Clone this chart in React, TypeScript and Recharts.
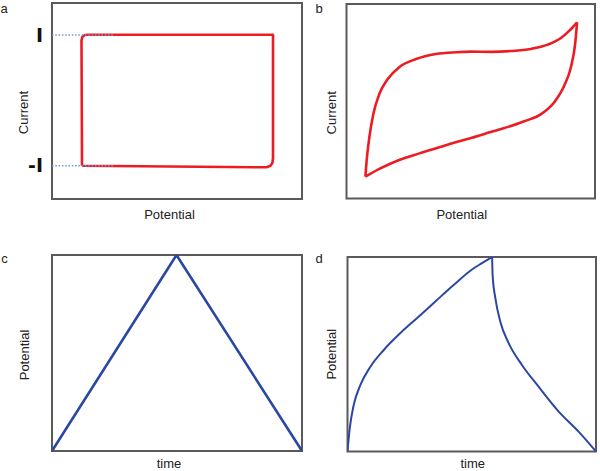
import React from 'react';
import { LineChart, Line, XAxis, YAxis, ReferenceArea } from 'recharts';

const FONT = '"Liberation Sans", Arial, sans-serif';
const RED = '#ec1c24';
const BLUE = '#2b47a3';
const FRAME = '#5a5a5a';

// Panel titles / labels
const panelLetters = ['a', 'b', 'c', 'd'];
const xTitles = ['Potential', 'Potential', 'time', 'time'];
const yTitles = ['Current', 'Current', 'Potential', 'Potential'];

// Panel a: ideal (rectangular) cyclic voltammogram
const currentTicks = [-1, 1];
const currentTickLabels = ['-I', 'I'];
const rectCV = [
  { x: 12.0, y: -1.0 },
  { x: 11.8, y: 0.92 },
  { x: 12.2, y: 0.975 },
  { x: 13.2, y: 1.0 },
  { x: 14.4, y: 1.003 },
  { x: 88.4, y: 1.003 },
  { x: 88.4, y: -0.883 },
  { x: 88.2, y: -0.952 },
  { x: 87.4, y: -1.002 },
  { x: 85.8, y: -1.025 },
  { x: 12.0, y: -1.0 },
];
const guideTop = [
  { x: 0, y: 1 },
  { x: 25, y: 1 },
];
const guideBottom = [
  { x: 0, y: -1 },
  { x: 25, y: -1 },
];

// Panel b: pseudocapacitive CV (upper and lower branches)
const cvUpper = [
  { x: 7.6, y: 11.2 },
  { x: 8.1, y: 19.4 },
  { x: 9.2, y: 31.5 },
  { x: 10.8, y: 43.4 },
  { x: 13.2, y: 53.7 },
  { x: 16.6, y: 61.4 },
  { x: 21.2, y: 67.5 },
  { x: 28.0, y: 71.7 },
  { x: 36.0, y: 74.3 },
  { x: 44.1, y: 75.2 },
  { x: 50.1, y: 75.5 },
  { x: 58.1, y: 75.4 },
  { x: 66.2, y: 75.8 },
  { x: 74.2, y: 76.9 },
  { x: 81.0, y: 79.1 },
  { x: 86.3, y: 82.5 },
  { x: 89.7, y: 86.3 },
  { x: 92.8, y: 90.6 },
];
const cvLower = [
  { x: 7.6, y: 11.2 },
  { x: 13.2, y: 15.2 },
  { x: 21.2, y: 19.8 },
  { x: 29.3, y: 23.2 },
  { x: 37.3, y: 26.3 },
  { x: 45.4, y: 29.4 },
  { x: 50.1, y: 31.1 },
  { x: 55.5, y: 33.2 },
  { x: 63.5, y: 36.2 },
  { x: 71.5, y: 39.7 },
  { x: 78.3, y: 43.4 },
  { x: 83.6, y: 49.5 },
  { x: 87.6, y: 58.0 },
  { x: 90.3, y: 67.5 },
  { x: 92.0, y: 79.4 },
  { x: 92.8, y: 90.6 },
];

// Panel c: ideal galvanostatic charge/discharge
const gcdTriangle = [
  { x: 0, y: 0 },
  { x: 49.8, y: 100 },
  { x: 100, y: 0 },
];

// Panel d: pseudocapacitive galvanostatic charge/discharge
const gcdCharge = [
  { x: 0, y: 0 },
  { x: 0.9, y: 11.9 },
  { x: 2.5, y: 23.9 },
  { x: 5.2, y: 34.2 },
  { x: 9.2, y: 43.6 },
  { x: 14.6, y: 52.2 },
  { x: 21.2, y: 60.8 },
  { x: 28.6, y: 69.3 },
  { x: 36.0, y: 77.9 },
  { x: 42.7, y: 85.6 },
  { x: 50.1, y: 93.6 },
  { x: 54.1, y: 96.8 },
  { x: 58.2, y: 100 },
];
const gcdDischarge = [
  { x: 58.2, y: 100 },
  { x: 58.4, y: 90.7 },
  { x: 59.5, y: 78.8 },
  { x: 61.5, y: 66.7 },
  { x: 64.9, y: 55.6 },
  { x: 70.2, y: 44.5 },
  { x: 76.9, y: 33.3 },
  { x: 85.0, y: 20.5 },
  { x: 93.0, y: 10.2 },
  { x: 100, y: 0 },
];

const titleStyle = { fontFamily: FONT, fontSize: 13, fill: '#222' };

type PanelProps = {
  left: number;
  top: number;
  width: number;
  height: number;
  margin: { top: number; right: number; bottom: number; left: number };
  yWidth: number;
  xHeight: number;
  yDomain: [number, number];
  xTitle: string;
  xDx: number;
  xOffset: number;
  yTitle: string;
  yDx: number;
  yDy: number;
  yTicks?: number[];
  children: React.ReactNode;
};

function Panel(p: PanelProps) {
  return (
    <div style={{ position: 'absolute', left: p.left, top: p.top }}>
      <LineChart width={p.width} height={p.height} margin={p.margin}>
        <XAxis
          type="number"
          dataKey="x"
          domain={[0, 100]}
          allowDataOverflow
          height={p.xHeight}
          tick={false}
          tickLine={false}
          axisLine={false}
          label={{ value: p.xTitle, position: 'insideTop', offset: p.xOffset, dx: p.xDx, style: titleStyle }}
        />
        <YAxis
          type="number"
          domain={p.yDomain}
          allowDataOverflow
          width={p.yWidth}
          ticks={p.yTicks}
          tick={
            p.yTicks
              ? { fontFamily: '"DejaVu Sans", Arial, sans-serif', fontSize: 19, fontWeight: 'bold', fill: '#111' }
              : false
          }
          tickFormatter={(v: number) => (v > 0 ? currentTickLabels[1] : currentTickLabels[0])}
          tickLine={false}
          tickSize={0}
          tickMargin={9}
          axisLine={false}
          interval={0}
          label={{ value: p.yTitle, angle: -90, position: 'center', dx: p.yDx, dy: p.yDy, style: titleStyle }}
        />
        <ReferenceArea
          x1={0}
          x2={100}
          y1={p.yDomain[0]}
          y2={p.yDomain[1]}
          fill="none"
          stroke={FRAME}
          strokeWidth={2}
          ifOverflow="visible"
        />
        {p.children}
      </LineChart>
    </div>
  );
}

export default function App() {
  return (
    <div
      style={{
        position: 'absolute',
        left: 0,
        top: 0,
        width: 600,
        height: 471,
        background: '#fff',
        overflow: 'hidden',
      }}
    >
      <Panel
        left={0}
        top={0}
        width={310}
        height={230}
        margin={{ top: 3, right: 8, bottom: 0, left: 0 }}
        yWidth={52}
        xHeight={31}
        yDomain={[-1.51, 1.49]}
        xTitle={xTitles[0]}
        xDx={-7.5}
        xOffset={10.5}
        yTitle={yTitles[0]}
        yDx={-3}
        yDy={11.5}
        yTicks={currentTicks}
      >
        <Line data={rectCV} dataKey="y" type="linear" stroke={RED} strokeWidth={2.6} dot={false} strokeLinejoin="round" isAnimationActive={false} />
        <Line data={guideTop} dataKey="y" type="linear" stroke="#6b9bd2" strokeWidth={1.5} strokeDasharray="1.5 1.8" dot={false} isAnimationActive={false} />
        <Line data={guideBottom} dataKey="y" type="linear" stroke="#6b9bd2" strokeWidth={1.5} strokeDasharray="1.5 1.8" dot={false} isAnimationActive={false} />
      </Panel>

      <Panel
        left={300}
        top={0}
        width={300}
        height={230}
        margin={{ top: 4, right: 5, bottom: 0, left: 0 }}
        yWidth={46.5}
        xHeight={31.5}
        yDomain={[0, 100]}
        xTitle={xTitles[1]}
        xDx={-9}
        xOffset={11.3}
        yTitle={yTitles[1]}
        yDx={7.75}
        yDy={11.5}
      >
        <Line data={cvUpper} dataKey="y" type="monotone" stroke={RED} strokeWidth={2.6} dot={false} isAnimationActive={false} />
        <Line data={cvLower} dataKey="y" type="monotone" stroke={RED} strokeWidth={2.6} dot={false} isAnimationActive={false} />
      </Panel>

      <Panel
        left={0}
        top={240}
        width={310}
        height={231}
        margin={{ top: 15, right: 8, bottom: 0, left: 0 }}
        yWidth={52}
        xHeight={20}
        yDomain={[0, 100]}
        xTitle={xTitles[2]}
        xDx={-8}
        xOffset={7.3}
        yTitle={yTitles[2]}
        yDx={-1.7}
        yDy={2}
      >
        <Line data={gcdTriangle} dataKey="y" type="linear" stroke={BLUE} strokeWidth={2.6} dot={false} isAnimationActive={false} />
      </Panel>

      <Panel
        left={300}
        top={240}
        width={300}
        height={231}
        margin={{ top: 17, right: 4, bottom: 0, left: 0 }}
        yWidth={47.5}
        xHeight={19.5}
        yDomain={[0, 100]}
        xTitle={xTitles[3]}
        xDx={1}
        xOffset={6.8}
        yTitle={yTitles[3]}
        yDx={7.25}
        yDy={0}
      >
        <Line data={gcdCharge} dataKey="y" type="monotone" stroke={BLUE} strokeWidth={2} dot={false} isAnimationActive={false} />
        <Line data={gcdDischarge} dataKey="y" type="monotone" stroke={BLUE} strokeWidth={2} dot={false} isAnimationActive={false} />
      </Panel>

      <svg width={600} height={471} style={{ position: 'absolute', left: 0, top: 0, pointerEvents: 'none' }}>
        <text x={0.5} y={12.7} style={titleStyle}>{panelLetters[0]}</text>
        <text x={315.5} y={12.7} style={titleStyle}>{panelLetters[1]}</text>
        <text x={1.2} y={263.3} style={titleStyle}>{panelLetters[2]}</text>
        <text x={315.5} y={263.3} style={titleStyle}>{panelLetters[3]}</text>
      </svg>
    </div>
  );
}
